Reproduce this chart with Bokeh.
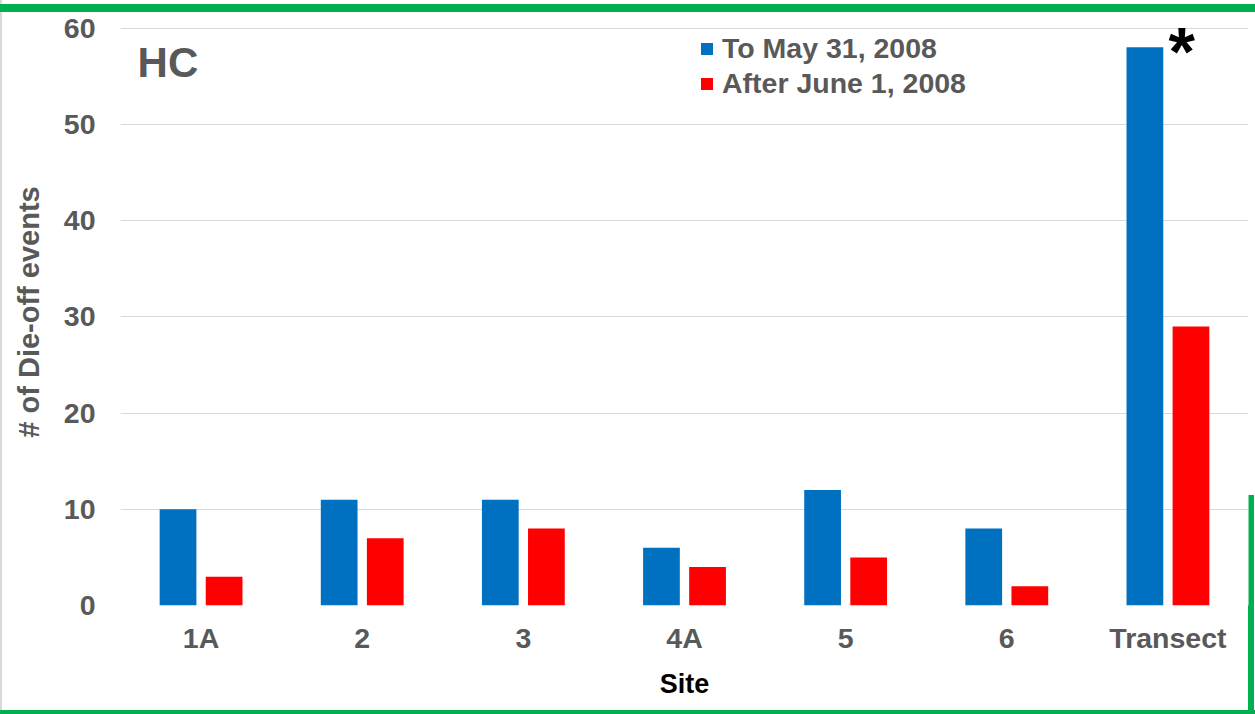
from bokeh.plotting import figure
from bokeh.models import (FactorRange, Range1d, Label, Legend,
                          LegendItem, ColumnDataSource, FixedTicker)
from bokeh.transform import dodge
from bokeh.embed import file_html
from bokeh.resources import INLINE

# ---- data ----
sites = ["1A", "2", "3", "4A", "5", "6", "Transect"]
to_may_2008 = [10, 11, 11, 6, 12, 8, 58]
after_june_2008 = [3, 7, 8, 4, 5, 2, 29]
series_names = ["To May 31, 2008", "After June 1, 2008"]
y_ticks = [0, 10, 20, 30, 40, 50, 60]
panel_title = "HC"
x_title = "Site"
y_title = "# of Die-off events"
marker_text = "*"

BLUE = "#0070C0"
RED = "#FF0000"
GREY = "#595959"
GREEN = "#00B050"
FONT = "Liberation Sans"

W, H = 1255, 714

src = ColumnDataSource(dict(site=sites, a=to_may_2008, b=after_june_2008))

p = figure(width=W, height=H, output_backend="svg", toolbar_location=None,
           x_range=FactorRange(*sites, range_padding=0), y_range=Range1d(0, 61),
           min_border_left=120, min_border_right=7, min_border_top=18,
           min_border_bottom=109)

p.outline_line_color = None
p.background_fill_color = "white"
p.border_fill_alpha = 0
p.styles = {
    "background": (
        f"linear-gradient({GREEN},{GREEN}) 0px 4px / 100% 8px no-repeat, "
        f"linear-gradient({GREEN},{GREEN}) 0px 710px / 100% 4px no-repeat, "
        f"linear-gradient({GREEN},{GREEN}) 1248px 495px / 6px 219px no-repeat, "
        "linear-gradient(#D9D9D9,#D9D9D9) 0px 0px / 2px 100% no-repeat, white"
    )
}

r1 = p.vbar(x=dodge("site", -0.143, range=p.x_range), top="a", width=0.228,
            source=src, fill_color=BLUE, line_color=None)
r2 = p.vbar(x=dodge("site", 0.143, range=p.x_range), top="b", width=0.228,
            source=src, fill_color=RED, line_color=None)

# axes
p.xgrid.grid_line_color = None
p.ygrid.grid_line_color = "#D9D9D9"
p.ygrid.grid_line_width = 1
p.yaxis.ticker = FixedTicker(ticks=y_ticks)
for ax in (p.xaxis[0], p.yaxis[0]):
    ax.axis_line_color = None
    ax.major_tick_line_color = None
    ax.minor_tick_line_color = None
    ax.major_tick_out = 0
    ax.major_tick_in = 0
    ax.major_label_text_font = FONT
    ax.major_label_text_font_style = "bold"
    ax.major_label_text_font_size = "28.5px"
    ax.major_label_text_color = GREY
    ax.axis_label_text_font = FONT
    ax.axis_label_text_font_style = "bold"
    ax.axis_label_text_font_size = "27px"

p.xaxis.axis_label = x_title
p.xaxis.axis_label_text_color = "black"
p.xaxis.major_label_standoff = 16
p.xaxis.axis_label_standoff = 12
p.yaxis.axis_label = y_title
p.yaxis.axis_label_text_color = GREY
p.yaxis.axis_label_text_font_size = "29px"
p.yaxis.major_label_standoff = 25
p.yaxis.axis_label_standoff = 16

# legend
legend = Legend(items=[LegendItem(label=series_names[0], renderers=[r1]),
                       LegendItem(label=series_names[1], renderers=[r2])],
                location=(579, 505), orientation="vertical",
                glyph_width=15, glyph_height=15, label_standoff=8,
                spacing=2, padding=0, margin=0,
                border_line_color=None, background_fill_alpha=0,
                label_text_font=FONT, label_text_font_style="bold",
                label_text_font_size="28.5px", label_text_color=GREY)
p.add_layout(legend)

# panel title and marker
p.add_layout(Label(x=0.106, y=56.4, text=panel_title, text_font=FONT,
                   text_font_style="bold", text_font_size="42px",
                   text_color=GREY, text_baseline="alphabetic"))
last = len(sites) - 1
p.add_layout(Label(x=last + 0.5 + 0.085, y=to_may_2008[last] - 0.4, text=marker_text,
                   text_font=FONT, text_font_style="bold", text_font_size="68px",
                   text_color="black", text_align="center", text_baseline="alphabetic"))

open("out.html", "w").write(file_html(p, INLINE))
